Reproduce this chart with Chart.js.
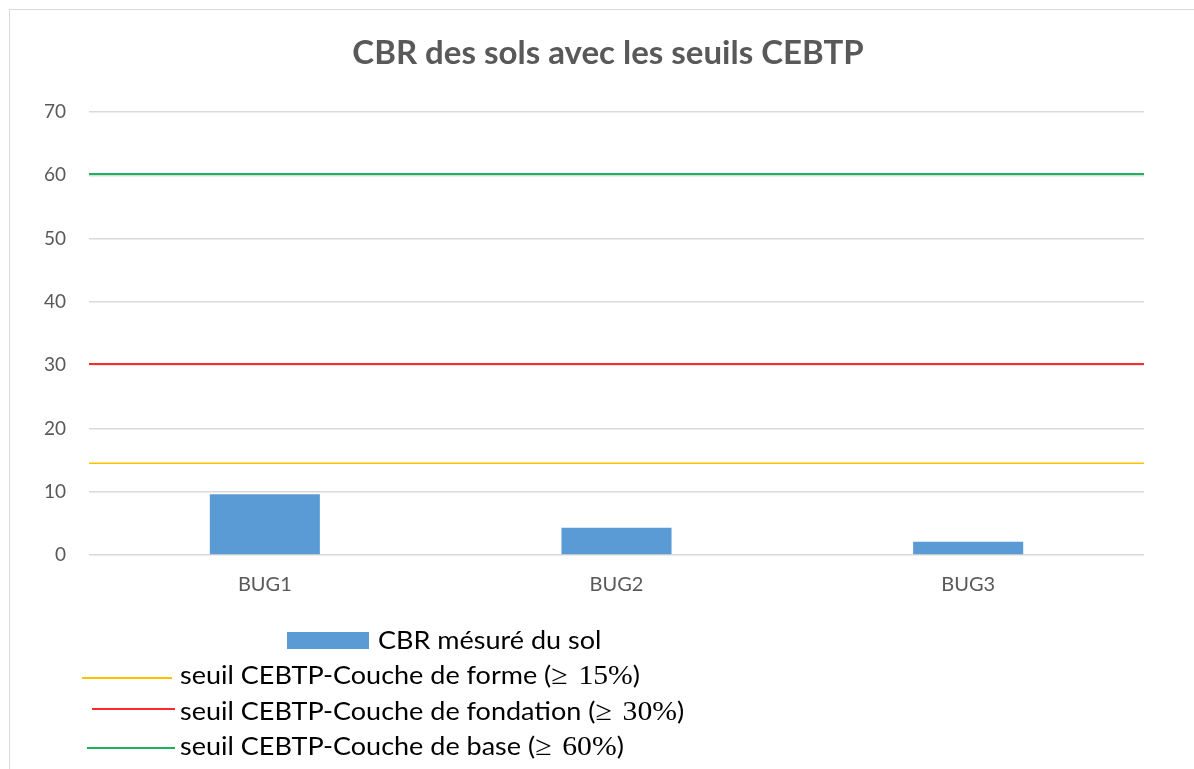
<!DOCTYPE html>
<html>
<head>
<meta charset="utf-8">
<script src="https://cdn.jsdelivr.net/npm/chart.js@4/dist/chart.umd.min.js"></script>
<style>
  html, body { margin: 0; padding: 0; background: #fff; overflow: hidden; }
  #frame { position: absolute; left: 9px; top: 9px; width: 1300px; height: 900px; border: 1.5px solid #d9d9d9; box-sizing: border-box; }
  #wrap { position: absolute; left: 0; top: 0; width: 1194px; height: 769px; }
  #legend { position: absolute; left: 0; top: 0; width: 1194px; height: 769px; pointer-events: none; }
  .sw { position: absolute; }
  .txt { position: absolute; white-space: nowrap; font-family: Lato, "Open Sans", sans-serif; font-size: 25px; line-height: 25px; color: #000; transform-origin: 0 50%; transform: scaleX(1.08); }
  .math { font-family: "Liberation Serif", "DejaVu Serif", serif; font-size: 27.5px; }
  .gap { display: inline-block; width: 10px; }
</style>
</head>
<body>
<div id="frame"></div>
<div id="wrap"><canvas id="c" width="1194" height="769"></canvas></div>
<div id="legend"></div>
<script>
const categories = ['BUG1', 'BUG2', 'BUG3'];
const cbrValues = [9.6, 4.3, 2.1];
const seuilForme = 14.5;
const seuilFondation = 30.2;
const seuilBase = 60.2;
const yTicks = [0, 10, 20, 30, 40, 50, 60, 70];
const titleText = 'CBR des sols avec les seuils CEBTP';
const labels = {
  cbr: 'CBR mésuré du sol',
  forme: 'seuil CEBTP-Couche de forme (≥ 15%)',
  fondation: 'seuil CEBTP-Couche de fondation (≥ 30%)',
  base: 'seuil CEBTP-Couche de base (≥ 60%)'
};

const spanLine = v => [{x: -0.5, y: v}, {x: categories.length - 0.5, y: v}];
const FONT = 'Lato, "Open Sans", sans-serif';

const chart = new Chart(document.getElementById('c'), {
  type: 'bar',
  data: {
    labels: categories,
    datasets: [
      { type: 'bar', label: labels.cbr, data: cbrValues, backgroundColor: '#5B9BD5',
        barPercentage: 0.313, categoryPercentage: 1.0, grouped: false, xAxisID: 'x', order: 4 },
      { type: 'line', label: labels.forme, data: spanLine(seuilForme), borderColor: '#FFC000',
        borderWidth: 1.5, pointRadius: 0, xAxisID: 'x2', fill: false, order: 3, clip: false },
      { type: 'line', label: labels.fondation, data: spanLine(seuilFondation), borderColor: '#FF2B2B',
        borderWidth: 2, pointRadius: 0, xAxisID: 'x2', fill: false, order: 2, clip: false },
      { type: 'line', label: labels.base, data: spanLine(seuilBase), borderColor: '#1DB35A',
        borderWidth: 2, pointRadius: 0, xAxisID: 'x2', fill: false, order: 1, clip: false }
    ]
  },
  options: {
    responsive: false,
    animation: false,
    devicePixelRatio: 1,
    layout: { padding: { left: 22, right: 0, top: 0, bottom: 0 } },
    plugins: {
      legend: { display: false },
      tooltip: { enabled: false },
      title: {
        display: true, text: titleText, color: '#595959',
        font: { family: FONT, size: 33, weight: 'bold', lineHeight: 1.2 },
        padding: { top: 34, bottom: 38.4 }
      }
    },
    scales: {
      x: {
        type: 'category', offset: true,
        grid: { display: false, drawTicks: false },
        border: { display: false },
        ticks: { color: '#595959', font: { family: FONT, size: 20 }, padding: 18 },
        afterFit: s => { s.height = 214; }
      },
      x2: {
        type: 'linear', display: false, offset: false, min: -0.5, max: categories.length - 0.5
      },
      y: {
        position: 'left',
        min: yTicks[0], max: yTicks[yTicks.length - 1],
        afterBuildTicks: s => { s.ticks = yTicks.map(v => ({ value: v })); },
        grid: { color: '#d9d9d9', lineWidth: 1.5, drawTicks: false },
        border: { display: false },
        ticks: { color: '#595959', font: { family: FONT, size: 19 }, padding: 23 },
        afterFit: s => { s.width = 67; }
      },
      yRight: {
        position: 'right', display: true,
        min: yTicks[0], max: yTicks[yTicks.length - 1],
        grid: { display: false, drawTicks: false },
        border: { display: false },
        ticks: { display: false },
        afterFit: s => { s.width = 50; }
      }
    }
  }
});

// HTML legend built from the chart's datasets
const legendRows = [
  { swL: 287, swR: 369, swY: 640, kind: 'box', textL: 378, capMid: 640 },
  { swL: 82, swR: 172, swY: 678, kind: 'line', textL: 180, capMid: 675.5 },
  { swL: 92, swR: 175, swY: 709, kind: 'line', textL: 180, capMid: 711 },
  { swL: 87, swR: 175, swY: 748, kind: 'line', textL: 180, capMid: 746 }
];
const legendEl = document.getElementById('legend');
chart.data.datasets.forEach((ds, i) => {
  const r = legendRows[i];
  const sw = document.createElement('div');
  sw.className = 'sw';
  sw.style.left = r.swL + 'px';
  sw.style.width = (r.swR - r.swL) + 'px';
  if (r.kind === 'box') {
    sw.style.top = (r.swY - 8.5) + 'px';
    sw.style.height = '17px';
    sw.style.background = ds.backgroundColor;
  } else {
    sw.style.top = (r.swY - ds.borderWidth / 2) + 'px';
    sw.style.height = ds.borderWidth + 'px';
    sw.style.background = ds.borderColor;
  }
  legendEl.appendChild(sw);

  const txt = document.createElement('div');
  txt.className = 'txt';
  txt.style.left = r.textL + 'px';
  txt.style.top = (r.capMid - 13.3) + 'px';
  const m = ds.label.match(/^(.*\()(≥) (\d+%)(\))$/);
  if (m) {
    txt.appendChild(document.createTextNode(m[1]));
    const mm = document.createElement('span');
    mm.className = 'math';
    mm.appendChild(document.createTextNode(m[2]));
    const g = document.createElement('span');
    g.className = 'gap';
    mm.appendChild(g);
    mm.appendChild(document.createTextNode(m[3]));
    txt.appendChild(mm);
    txt.appendChild(document.createTextNode(m[4]));
  } else {
    txt.textContent = ds.label;
  }
  legendEl.appendChild(txt);
});
</script>
</body>
</html>
